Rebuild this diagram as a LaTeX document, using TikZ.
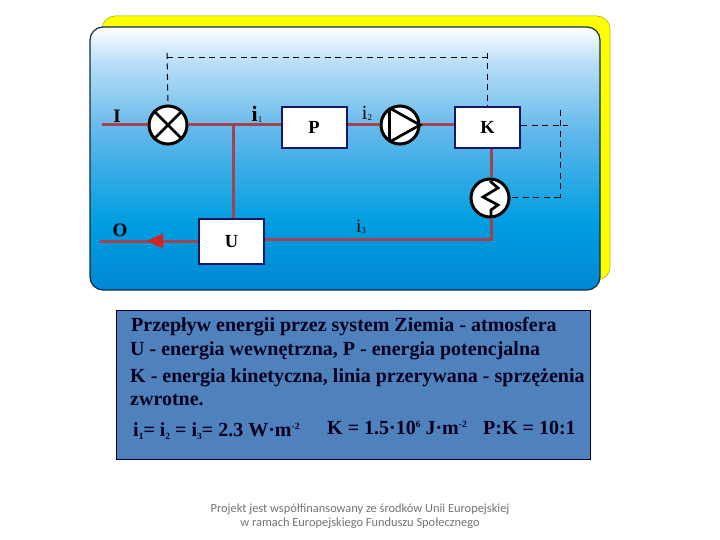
\documentclass[tikz,border=0pt]{standalone}
\usepackage{fontspec}
\setmainfont{Liberation Serif}
\newfontfamily\footfont{Carlito}
\usetikzlibrary{arrows.meta}
\definecolor{flow}{HTML}{A3434F}
\definecolor{boxline}{HTML}{16166E}
\definecolor{textpanel}{HTML}{4F81BD}
\definecolor{panelline}{HTML}{0B2F4A}
\definecolor{arrowred}{HTML}{D52222}
\definecolor{yell}{HTML}{FFFF00}
\pgfdeclareverticalshading{panelshade}{100bp}{
  rgb(0bp)=(0,0.53,0.82);
  rgb(25bp)=(0,0.53,0.82);
  rgb(38bp)=(0,0.62,0.88);
  rgb(55bp)=(0.38,0.72,0.92);
  rgb(68bp)=(0.72,0.87,0.97);
  rgb(75bp)=(1,1,1);
  rgb(100bp)=(1,1,1)}
\tikzset{
  flowline/.style={draw=flow,line width=3pt},
  fbline/.style={draw=black,line width=1pt,dash pattern=on 6pt off 4.5pt},
  blockbox/.style={draw=boxline,fill=white,line width=2pt,inner sep=0pt,font=\bfseries\fontsize{18.5}{18.5}\selectfont},
  devicecirc/.style={circle,draw=black,fill=white,line width=3pt,minimum size=38pt,inner sep=0pt},
  glyph/.style={draw=black,line width=2.7pt},
  lab/.style={inner sep=0pt,font=\bfseries\fontsize{19}{19}\selectfont},
  ilab/.style={inner sep=0pt},
  panelitem/.style={anchor=base west,inner sep=0pt,text=black!88!blue,font=\bfseries\fontsize{20}{20}\selectfont},
  footitem/.style={anchor=base,inner sep=0pt,text=black!55,font=\footfont\fontsize{12.4}{12.4}\selectfont}
}
\begin{document}
\begin{tikzpicture}[x=1pt,y=-1pt]
\useasboundingbox (0,0) rectangle (720,540);
% panels
\path[fill=yell,draw=black!35!yell,line width=0.5pt,rounded corners=13pt] (102,16) rectangle (610,280);
\path[shading=panelshade,draw=panelline,line width=1.2pt,rounded corners=13pt] (90,27) rectangle (600,290);
% nodes
\node[devicecirc] (mix) at (168,125) {};
\node[devicecirc] (pump) at (400,125) {};
\node[devicecirc] (heat) at (490,198) {};
\coordinate (inI) at (102,125);
\coordinate (outO) at (100,241);
\coordinate (junc) at (233,125);
\coordinate (corner) at (491,239);
\coordinate (tl) at (167,58);
\coordinate (tr) at (487,58);
\coordinate (tlt) at (167,53);
\coordinate (trt) at (487,53);
\coordinate (rk) at (568,125.5);
\coordinate (rb) at (560,198);
\coordinate (rt) at (560,110);
\node[blockbox,minimum width=65pt,minimum height=41pt] (P) at (314,127.5) {P};
\node[blockbox,minimum width=65pt,minimum height=41pt] (K) at (487.5,127.5) {K};
\node[blockbox,minimum width=65pt,minimum height=45pt] (U) at (231.5,241.5) {U};
% flow lines
\draw[flowline] (inI) -- (mix.west);
\draw[flowline] (mix.east) -- (P.west |- mix.east);
\draw[flowline] (junc) -- (junc |- U.north);
\draw[flowline] (P.east |- pump.west) -- (pump.west);
\draw[flowline] (pump.east) -- (K.west |- pump.east);
\draw[flowline] (heat.north -| corner) -- (corner |- K.south);
\draw[flowline] (heat.south -| corner) -- (corner) -- (U.east |- corner);
\draw[flowline] (U.west |- outO) -- (outO);
\fill[arrowred] (147,241) -- (163,233.5) -- (163,248.5) -- cycle;
% feedback
\draw[fbline] (tlt) -- (mix.north);
\draw[fbline] (tl) -- (tr);
\draw[fbline] (trt) -- (K.north -| trt);
\draw[fbline] (K.east |- rk) -- (rk);
\draw[fbline] (rt) -- (rb);
\draw[fbline] (rb) -- (heat.east);
% glyphs
\draw[glyph] (mix.45) -- (mix.225) (mix.135) -- (mix.315);
\draw[glyph,line join=miter] (389.5,108) -- (389.5,142) (389.5,108) -- (420,125) -- (389.5,142);
\draw[glyph] (490,181) -- (498,188) -- (483,197) -- (498,205) -- (491,210) -- (491,217);
% labels
\node[lab] (tI) at (117,116) {I};
\node[lab] (tO) at (120,230.5) {O};
\node[ilab] (t1) at (257,114) {\bfseries\fontsize{22}{22}\selectfont i\raisebox{-1pt}{\mdseries\fontsize{9}{9}\selectfont 1}};
\node[ilab] (t2) at (367,113) {\fontsize{20}{20}\selectfont i\raisebox{-1pt}{\fontsize{9}{9}\selectfont 2}};
\node[ilab] (t3) at (361,227) {\fontsize{19}{19}\selectfont i\raisebox{-1pt}{\fontsize{9}{9}\selectfont 3}};
% text panel
\node[draw=black!80!blue,fill=textpanel,line width=1pt,minimum width=474pt,minimum height=149pt,inner sep=0pt] (panel) at (353.7,384.5) {};
\node[panelitem] (l1) at (131,331) {Przepływ energii przez system Ziemia - atmosfera};
\node[panelitem] (l2) at (130,355) {U - energia wewnętrzna, P - energia potencjalna};
\node[panelitem] (l3) at (130,382) {K - energia kinetyczna, linia przerywana - sprzężenia};
\node[panelitem] (l4) at (130,405) {zwrotne.};
\newcommand{\sbs}[1]{\raisebox{-3pt}{\fontsize{9.5}{9.5}\selectfont #1}}
\newcommand{\sps}[1]{\raisebox{7pt}{\fontsize{9.5}{9.5}\selectfont #1}}
\node[panelitem] (l5a) at (133,436) {i\sbs{1}= i\sbs{2} = i\sbs{3}= 2.3 W·m\sps{-2}};
\node[panelitem] (l5b) at (327,434.5) {K = 1.5·10\sps{6} J·m\sps{-2}};
\node[panelitem] (l5c) at (483,434.5) {P:K = 10:1};
% footer
\node[footitem] (f1) at (360,512.5) {Projekt jest współfinansowany ze środków Unii Europejskiej};
\node[footitem] (f2) at (360,526.5) {w ramach Europejskiego Funduszu Społecznego};
\end{tikzpicture}
\end{document}
